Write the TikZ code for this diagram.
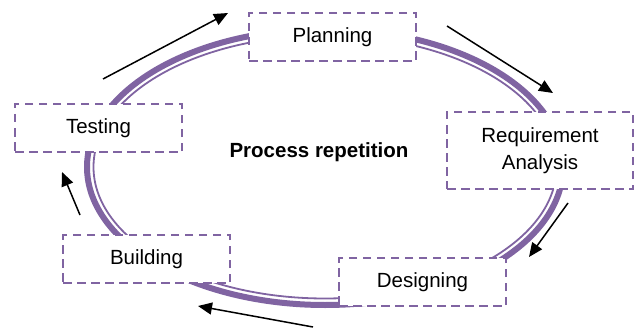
\documentclass[tikz,border=0pt]{standalone}
\usepackage{fontspec}
\setmainfont{Liberation Sans}
\usetikzlibrary{arrows.meta}
\definecolor{phasepurple}{HTML}{8064A2}

\begin{document}
\begin{tikzpicture}[x=1pt,y=-1pt,
  phase/.style={draw=phasepurple,line width=2.5pt,dash pattern=on 8.5pt off 5.5pt,fill=white,
    minimum width=167pt,minimum height=48pt,inner sep=0pt,font=\fontsize{20.5}{27}\selectfont},
  loopouter/.style={draw=phasepurple,line width=6pt},
  loopinner/.style={draw=phasepurple,line width=1.8pt},
  flow/.style={-{Triangle[length=14pt,width=12pt]},line width=1.5pt}]
\useasboundingbox (0,0) rectangle (635,329);
\coordinate (O) at (325,167);
\draw[loopouter] (O) ellipse [x radius=238pt,y radius=138pt];
\draw[loopinner] (O) ellipse [x radius=231.5pt,y radius=131.5pt];
\node[phase] (P) at (332.5,37) {Planning};
\node[phase,minimum width=186pt,minimum height=77pt,align=center] (R) at (540,150.5) {Requirement\\Analysis};
\node[phase] (D) at (422.5,282) {Designing};
\node[phase] (B) at (146.5,259) {Building};
\node[phase] (T) at (98.5,128) {Testing};
\node[font=\bfseries\fontsize{20.5}{27}\selectfont] (C) at (319,152) {Process repetition};
\coordinate (t1) at (103,79);
\coordinate (h1) at (228,13);
\coordinate (t2) at (447,26);
\coordinate (h2) at (553,93);
\coordinate (t3) at (568,203);
\coordinate (h3) at (529,257);
\coordinate (t4) at (313,327);
\coordinate (h4) at (198,306);
\coordinate (t5) at (80,215);
\coordinate (h5) at (62,172);
\path [flow] (t1) edge (h1);
\path [flow] (t2) edge (h2);
\path [flow] (t3) edge (h3);
\path [flow] (t4) edge (h4);
\path [flow] (t5) edge (h5);
\end{tikzpicture}
\end{document}
